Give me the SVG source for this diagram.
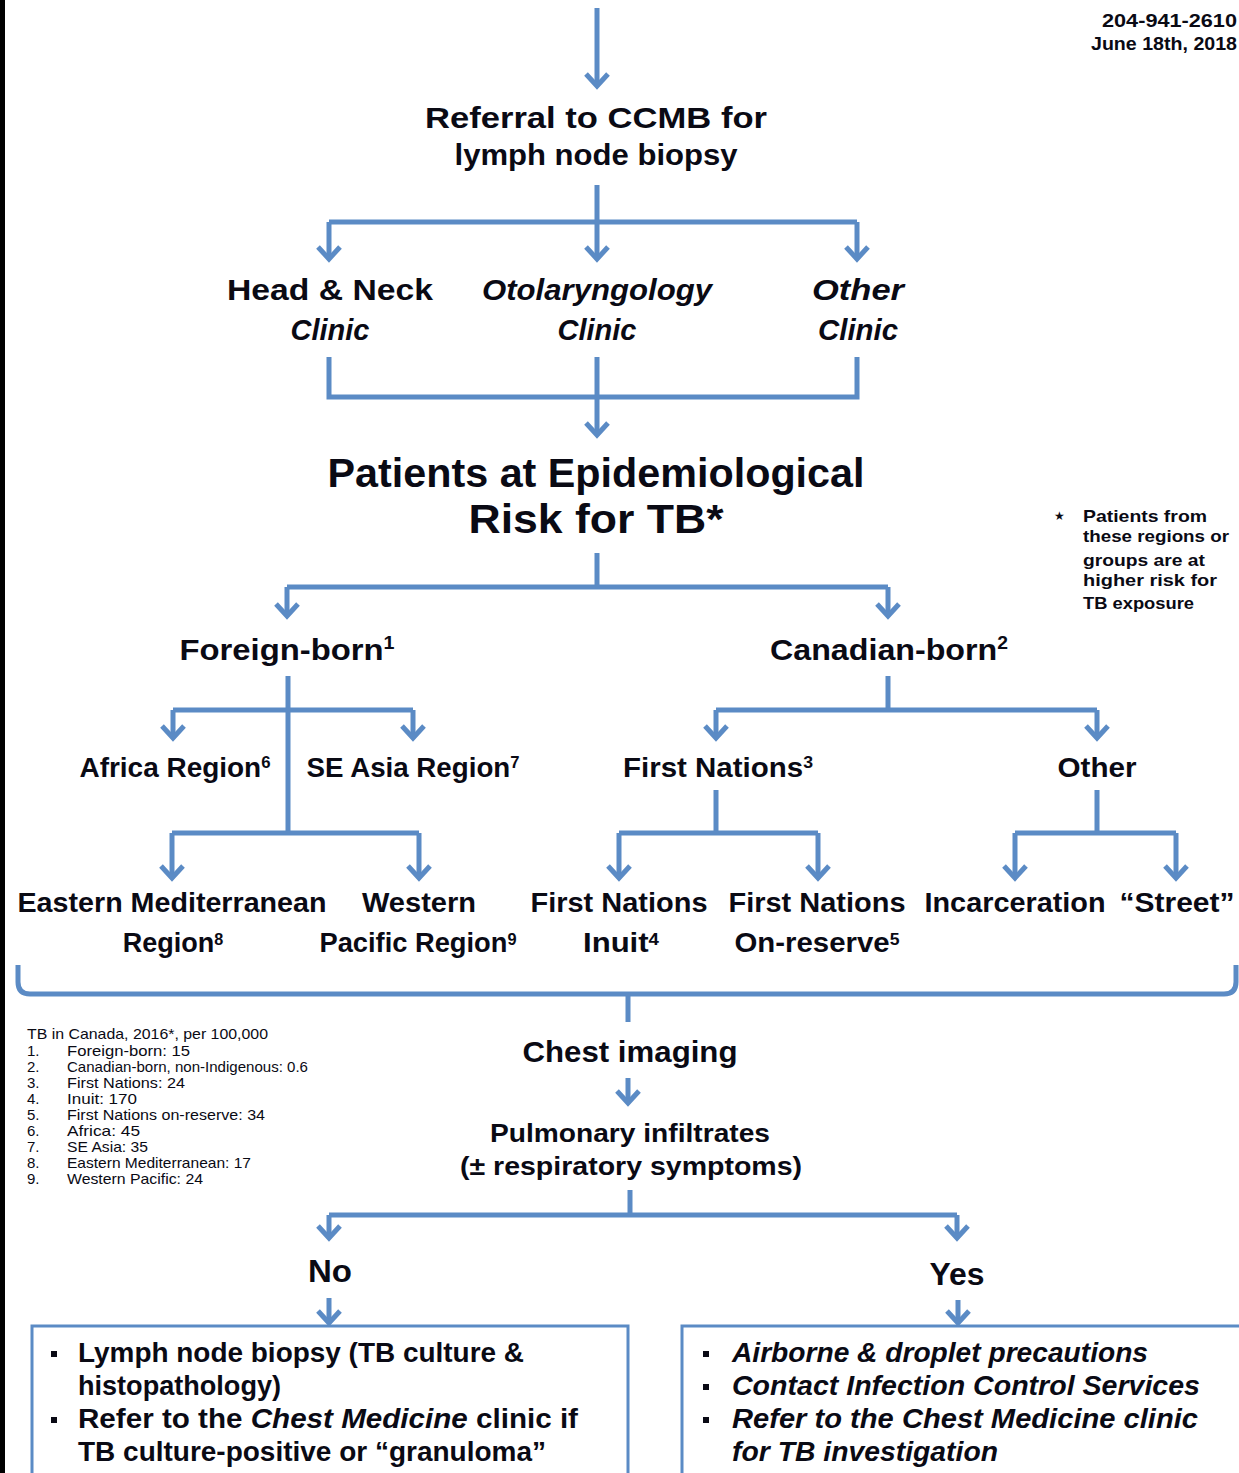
<svg xmlns="http://www.w3.org/2000/svg" width="1239" height="1473" viewBox="0 0 1239 1473">
<style>
text{font-family:"Liberation Sans",Arial,sans-serif;font-weight:bold;fill:#0a0a14}
.c{text-anchor:middle}
.i{font-style:italic}
.t30{font-size:30px}
.t40{font-size:40px}
.t27{font-size:27px}
.t25{font-size:25px}
.t32{font-size:32px}
.fn{font-family:"Liberation Sans",Arial,sans-serif;font-weight:normal;font-size:15px}
.note{font-size:17px}
.ln{fill:none;stroke:#5b8bc5;stroke-width:5;stroke-linecap:butt;stroke-linejoin:miter}
.ar{marker-end:url(#chev)}
.box{fill:none;stroke:#5b8bc5;stroke-width:3}
.sp{font-size:60%}
</style>
<defs>
<marker id="chev" markerUnits="userSpaceOnUse" viewBox="-16 -14 20 28" markerWidth="20" markerHeight="28" refX="0" refY="0" orient="auto">
<path d="M-12,-11 L0,0 L-12,11" fill="none" stroke="#5b8bc5" stroke-width="5"/>
</marker>
</defs>
<rect x="0" y="0" width="1239" height="1473" fill="#ffffff"/>
<rect x="0" y="0" width="5" height="1473" fill="#000"/>

<g id="header">
<text x="1237" y="27" style="font-size:18px;text-anchor:end" textLength="135" lengthAdjust="spacingAndGlyphs">204-941-2610</text>
<text x="1237" y="50" style="font-size:18px;text-anchor:end" textLength="146" lengthAdjust="spacingAndGlyphs">June 18th, 2018</text>
</g>

<g id="connectors">
<path class="ln ar" d="M597,8 V86"/>
<path class="ln" d="M597,185 V222 M329,222 H857"/>
<path class="ln ar" d="M329,222 V259"/>
<path class="ln ar" d="M597,222 V259"/>
<path class="ln ar" d="M857,222 V259"/>
<path class="ln" d="M329,357 V397 H857 V357"/>
<path class="ln ar" d="M597,357 V435"/>
<path class="ln" d="M597,553 V587 M287,587 H888"/>
<path class="ln ar" d="M287,587 V616"/>
<path class="ln ar" d="M888,587 V616"/>
<path class="ln" d="M288,676 V833 M173,710 H413 M172,833 H419"/>
<path class="ln ar" d="M173,710 V738"/>
<path class="ln ar" d="M413,710 V738"/>
<path class="ln ar" d="M172,833 V878"/>
<path class="ln ar" d="M419,833 V878"/>
<path class="ln" d="M888,676 V710 M716,710 H1097"/>
<path class="ln ar" d="M716,710 V738"/>
<path class="ln ar" d="M1097,710 V738"/>
<path class="ln" d="M716,790 V833 M619,833 H818"/>
<path class="ln ar" d="M619,833 V878"/>
<path class="ln ar" d="M818,833 V878"/>
<path class="ln" d="M1097,790 V833 M1015,833 H1176"/>
<path class="ln ar" d="M1015,833 V878"/>
<path class="ln ar" d="M1176,833 V878"/>
<path class="ln" d="M18,965 V982 Q18,994 30,994 H1224 Q1236,994 1236,982 V965 M628,994 V1022"/>
<path class="ln ar" d="M628,1078 V1103"/>
<path class="ln" d="M630,1190 V1215 M329,1215 H957"/>
<path class="ln ar" d="M329,1215 V1238"/>
<path class="ln ar" d="M957,1215 V1238"/>
<path class="ln ar" d="M329,1298 V1323"/>
<path class="ln ar" d="M958,1300 V1323"/>
</g>

<g id="referral">
<text class="c t30" x="596" y="128" textLength="342" lengthAdjust="spacingAndGlyphs">Referral to CCMB for</text>
<text class="c t30" x="596" y="165" textLength="283" lengthAdjust="spacingAndGlyphs">lymph node biopsy</text>
</g>
<g id="head-neck">
<text class="c t30" x="330" y="300" textLength="206" lengthAdjust="spacingAndGlyphs">Head &amp; Neck</text>
<text class="c t30 i" x="330" y="340" textLength="79" lengthAdjust="spacingAndGlyphs">Clinic</text>
</g>
<g id="otolaryngology">
<text class="c t30 i" x="597" y="300" textLength="230" lengthAdjust="spacingAndGlyphs">Otolaryngology</text>
<text class="c t30 i" x="597" y="340" textLength="79" lengthAdjust="spacingAndGlyphs">Clinic</text>
</g>
<g id="other-clinic">
<text class="c t30 i" x="858" y="300" textLength="92" lengthAdjust="spacingAndGlyphs">Other</text>
<text class="c t30 i" x="858" y="340" textLength="80" lengthAdjust="spacingAndGlyphs">Clinic</text>
</g>
<g id="patients-risk">
<text class="c t40" x="596" y="487" textLength="537" lengthAdjust="spacingAndGlyphs">Patients at Epidemiological</text>
<text class="c t40" x="596" y="533" textLength="255" lengthAdjust="spacingAndGlyphs">Risk for TB*</text>
</g>
<g id="risk-note">
<text x="1054" y="520" style="font-family:'DejaVu Sans',sans-serif;font-size:12px">★</text>
<text class="note" x="1083" y="522" textLength="124" lengthAdjust="spacingAndGlyphs">Patients from</text>
<text class="note" x="1083" y="542" textLength="146" lengthAdjust="spacingAndGlyphs">these regions or</text>
<text class="note" x="1083" y="566" textLength="122" lengthAdjust="spacingAndGlyphs">groups are at</text>
<text class="note" x="1083" y="586" textLength="134" lengthAdjust="spacingAndGlyphs">higher risk for</text>
<text class="note" x="1083" y="609" textLength="111" lengthAdjust="spacingAndGlyphs">TB exposure</text>
</g>
<g id="foreign-born">
<text class="c t30" x="287" y="660" textLength="215" lengthAdjust="spacingAndGlyphs">Foreign-born<tspan class="sp" dy="-11">1</tspan></text>
</g>
<g id="canadian-born">
<text class="c t30" x="889" y="660" textLength="238" lengthAdjust="spacingAndGlyphs">Canadian-born<tspan class="sp" dy="-11">2</tspan></text>
</g>
<g id="africa">
<text class="c t27" x="175" y="777" textLength="191" lengthAdjust="spacingAndGlyphs">Africa Region<tspan class="sp" dy="-9">6</tspan></text>
</g>
<g id="se-asia">
<text class="c t27" x="413" y="777" textLength="213" lengthAdjust="spacingAndGlyphs">SE Asia Region<tspan class="sp" dy="-9">7</tspan></text>
</g>
<g id="first-nations">
<text class="c t27" x="718" y="777" textLength="190" lengthAdjust="spacingAndGlyphs">First Nations<tspan class="sp" dy="-9">3</tspan></text>
</g>
<g id="other">
<text class="c t27" x="1097" y="777" textLength="79" lengthAdjust="spacingAndGlyphs">Other</text>
</g>
<g id="eastern-med">
<text class="c t27" x="172" y="912" textLength="309" lengthAdjust="spacingAndGlyphs">Eastern Mediterranean</text>
<text class="c t27" x="173" y="952">Region<tspan class="sp" dy="-7">8</tspan></text>
</g>
<g id="western-pacific">
<text class="c t27" x="419" y="912" textLength="114" lengthAdjust="spacingAndGlyphs">Western</text>
<text class="c t27" x="418" y="952" textLength="197" lengthAdjust="spacingAndGlyphs">Pacific Region<tspan class="sp" dy="-7">9</tspan></text>
</g>
<g id="fn-inuit">
<text class="c t27" x="619" y="912" textLength="177" lengthAdjust="spacingAndGlyphs">First Nations</text>
<text class="c t27" x="621" y="952" textLength="76" lengthAdjust="spacingAndGlyphs">Inuit<tspan class="sp" dy="-7">4</tspan></text>
</g>
<g id="fn-onreserve">
<text class="c t27" x="817" y="912" textLength="177" lengthAdjust="spacingAndGlyphs">First Nations</text>
<text class="c t27" x="817" y="952" textLength="165" lengthAdjust="spacingAndGlyphs">On-reserve<tspan class="sp" dy="-7">5</tspan></text>
</g>
<g id="incarceration">
<text class="c t27" x="1015" y="912" textLength="181" lengthAdjust="spacingAndGlyphs">Incarceration</text>
</g>
<g id="street">
<text class="c t27" x="1177" y="912" textLength="115" lengthAdjust="spacingAndGlyphs">“Street”</text>
</g>
<g id="footnotes">
<text class="fn" x="27" y="1039" textLength="241" lengthAdjust="spacingAndGlyphs">TB in Canada, 2016*, per 100,000</text>
<text class="fn" x="27" y="1056">1.</text><text class="fn" x="67" y="1056" textLength="123" lengthAdjust="spacingAndGlyphs">Foreign-born: 15</text>
<text class="fn" x="27" y="1072">2.</text><text class="fn" x="67" y="1072" textLength="241" lengthAdjust="spacingAndGlyphs">Canadian-born, non-Indigenous: 0.6</text>
<text class="fn" x="27" y="1088">3.</text><text class="fn" x="67" y="1088" textLength="118" lengthAdjust="spacingAndGlyphs">First Nations: 24</text>
<text class="fn" x="27" y="1104">4.</text><text class="fn" x="67" y="1104" textLength="70" lengthAdjust="spacingAndGlyphs">Inuit: 170</text>
<text class="fn" x="27" y="1120">5.</text><text class="fn" x="67" y="1120" textLength="198" lengthAdjust="spacingAndGlyphs">First Nations on-reserve: 34</text>
<text class="fn" x="27" y="1136">6.</text><text class="fn" x="67" y="1136" textLength="73" lengthAdjust="spacingAndGlyphs">Africa: 45</text>
<text class="fn" x="27" y="1152">7.</text><text class="fn" x="67" y="1152" textLength="81" lengthAdjust="spacingAndGlyphs">SE Asia: 35</text>
<text class="fn" x="27" y="1168">8.</text><text class="fn" x="67" y="1168" textLength="184" lengthAdjust="spacingAndGlyphs">Eastern Mediterranean: 17</text>
<text class="fn" x="27" y="1184">9.</text><text class="fn" x="67" y="1184" textLength="136" lengthAdjust="spacingAndGlyphs">Western Pacific: 24</text>
</g>
<g id="chest-imaging">
<text class="c t30" x="630" y="1062" textLength="215" lengthAdjust="spacingAndGlyphs">Chest imaging</text>
</g>
<g id="pulmonary">
<text class="c t25" x="630" y="1142" textLength="280" lengthAdjust="spacingAndGlyphs">Pulmonary infiltrates</text>
<text class="c t25" x="631" y="1175" textLength="342" lengthAdjust="spacingAndGlyphs">(± respiratory symptoms)</text>
</g>
<g id="no">
<text class="c t32" x="330" y="1282" textLength="44" lengthAdjust="spacingAndGlyphs">No</text>
</g>
<g id="yes">
<text class="c t32" x="957" y="1285" textLength="55" lengthAdjust="spacingAndGlyphs">Yes</text>
</g>
<g id="no-box">
<rect class="box" x="32" y="1326" width="596" height="200"/>
<rect x="51" y="1351" width="6" height="6" fill="#0a0a14"/>
<rect x="51" y="1417" width="6" height="6" fill="#0a0a14"/>
<text class="t27" x="78" y="1362" textLength="446" lengthAdjust="spacingAndGlyphs">Lymph node biopsy (TB culture &amp;</text>
<text class="t27" x="78" y="1395" textLength="203" lengthAdjust="spacingAndGlyphs">histopathology)</text>
<text class="t27" x="78" y="1428" textLength="500" lengthAdjust="spacingAndGlyphs">Refer to the <tspan class="i">Chest Medicine</tspan> clinic if</text>
<text class="t27" x="78" y="1461" textLength="468" lengthAdjust="spacingAndGlyphs">TB culture-positive or “granuloma”</text>
</g>
<g id="yes-box">
<rect class="box" x="682" y="1326" width="600" height="200"/>
<rect x="703" y="1351" width="6" height="6" fill="#0a0a14"/>
<rect x="703" y="1384" width="6" height="6" fill="#0a0a14"/>
<rect x="703" y="1417" width="6" height="6" fill="#0a0a14"/>
<text class="t27 i" x="732" y="1362" textLength="416" lengthAdjust="spacingAndGlyphs">Airborne &amp; droplet precautions</text>
<text class="t27 i" x="732" y="1395" textLength="468" lengthAdjust="spacingAndGlyphs">Contact Infection Control Services</text>
<text class="t27 i" x="732" y="1428" textLength="466" lengthAdjust="spacingAndGlyphs">Refer to the Chest Medicine clinic</text>
<text class="t27 i" x="732" y="1461" textLength="266" lengthAdjust="spacingAndGlyphs">for TB investigation</text>
</g>
</svg>
